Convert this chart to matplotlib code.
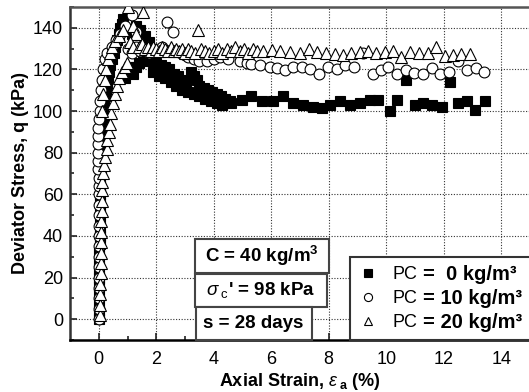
import matplotlib
matplotlib.use("Agg")
import matplotlib.pyplot as plt
from matplotlib.patches import Rectangle

plt.rcParams['font.family'] = ['Liberation Sans', 'DejaVu Sans']
plt.rcParams['mathtext.fontset'] = 'custom'
plt.rcParams['mathtext.rm'] = 'Liberation Sans'
plt.rcParams['mathtext.it'] = 'Liberation Sans:italic'
plt.rcParams['mathtext.bf'] = 'Liberation Sans:bold'

# ---------------- data ----------------
# PC = 0 kg/m3  (filled squares)
strain_pc0 = [0.00, 0.00, 0.00, 0.01, 0.01, 0.01, 0.02, 0.02, 0.02, 0.03, 0.03, 0.03, 0.04, 0.04,
              0.05, 0.05, 0.06, 0.06, 0.07, 0.08, 0.09, 0.10, 0.11, 0.12, 0.14, 0.16, 0.18, 0.21,
              0.24, 0.27, 0.31, 0.35, 0.40, 0.46, 0.52, 0.58, 0.64, 0.70, 0.75, 0.80, 0.85,
              1.00, 1.15, 1.30, 1.45, 1.60, 1.75,
              0.90, 1.00, 1.10, 1.20, 1.30, 1.40, 1.55, 1.70, 1.85, 2.00, 2.15, 2.30, 2.45, 2.60,
              2.75, 2.90, 3.05, 3.20, 3.30, 3.40, 3.50, 3.65, 3.80, 3.95, 4.10, 4.25, 4.40, 4.55,
              1.90, 2.10, 2.30, 2.50, 2.70, 2.90, 3.10, 3.30, 3.50, 3.70, 3.90, 4.10, 4.30,
              4.60, 4.97, 5.30, 5.67, 6.05, 6.40, 6.75, 7.10, 7.44, 7.75, 8.03, 8.38, 8.73, 9.08,
              9.43, 9.70, 10.12, 10.37, 10.70, 11.00, 11.27, 11.58, 11.93, 12.20, 12.49, 12.80,
              13.10, 13.43]
q_pc0 = [0, 4, 8, 12, 16, 20, 24, 28, 32, 36, 40, 44, 48, 52,
         56, 60, 64, 68, 72, 76, 80, 84, 88, 92, 96, 100, 104, 107,
         110, 113, 116, 119, 122, 125, 128, 131, 134, 137, 140, 142, 144,
         139, 137, 141, 139, 136, 133,
         116, 119, 121, 118, 121, 123, 124, 125, 124, 123, 122, 121, 120, 118,
         117, 115, 114, 119, 117, 115, 112, 111, 110, 109, 108, 107, 106, 105,
         119, 117, 116, 114, 112, 110, 109, 108, 107, 106, 105, 104, 103,
         104, 105.5, 107, 104.6, 104.8, 107, 104, 103, 102, 101.6, 103, 104.6, 103, 104,
         105.5, 105.5, 99.8, 105.5, 115, 103, 104, 103, 102, 114, 104, 104.6,
         100.7, 105]

# PC = 10 kg/m3  (open circles)
strain_pc10 = [0.00, 0.00, 0.00, 0.00, 0.00, 0.00, 0.00, 0.00, 0.00, 0.00, 0.00, 0.00, 0.00,
               0.00, 0.00, -0.01, -0.02, -0.02, -0.03, -0.03, -0.02, 0.00, 0.03, 0.05, 0.08,
               0.11, 0.14, 0.20, 0.30, 0.45, 0.60, 0.75, 0.90, 1.15, 1.30,
               1.00, 1.15, 1.30, 1.45, 1.60, 1.75, 1.90, 2.05, 2.20, 2.37, 2.58, 2.70, 2.85,
               3.00, 3.10, 3.30, 3.50, 3.75, 4.00, 4.20, 4.50, 4.90, 5.15, 5.30, 5.60, 5.95,
               6.20, 6.47, 6.75, 7.06, 7.34, 7.65, 7.97, 8.28, 8.56, 8.87, 9.18, 9.53, 9.80,
               10.05, 10.37, 10.68, 10.96, 11.27, 11.58, 11.86, 12.17, 12.49, 12.80, 13.11,
               13.40]
q_pc10 = [0, 5, 10, 15, 20, 25, 30, 35, 40, 45, 50, 55, 60,
          64, 68, 72, 76, 80, 84, 88, 92, 96, 100, 105, 110,
          115, 120, 125, 128, 131, 134, 137, 141, 146, 138,
          130, 128, 131, 129, 130, 128, 130, 129, 131, 143, 138, 129, 128,
          127, 126, 125, 124, 124, 125, 125.8, 125, 124, 123, 122.4, 122, 121,
          120.5, 119.5, 121, 121.4, 120, 117.6, 121, 120, 122, 121, 128, 117.6, 119.5,
          121.4, 118, 119.5, 118.5, 118, 120.5, 118, 119, 124, 119.5, 120.5,
          119]

# PC = 20 kg/m3  (open triangles)
strain_pc20 = [0.05, 0.05, 0.06, 0.06, 0.07, 0.07, 0.08, 0.08, 0.09, 0.09, 0.10, 0.10, 0.11,
               0.13, 0.15, 0.18, 0.22, 0.27, 0.30, 0.34, 0.38, 0.42, 0.48, 0.55, 0.62, 0.70,
               0.80, 0.90, 0.97,
               0.10, 0.15, 0.20, 0.25, 0.32, 0.38, 0.45, 0.56, 0.70, 0.85, 1.00, 1.18, 1.30,
               1.55, 1.10, 1.20, 1.40, 1.50, 1.60, 1.70, 1.80, 1.90, 2.00, 2.10, 2.20, 2.30,
               2.40, 2.50, 2.60, 2.70, 2.80, 2.90, 3.00, 3.10, 3.20, 3.35, 3.45, 3.55, 3.70,
               3.85, 4.00, 4.15, 4.30, 4.45, 4.60, 4.75, 4.90, 5.05, 5.20, 5.35, 5.50, 5.72,
               6.01, 6.30, 6.64, 6.99, 7.31, 7.59, 7.89, 8.20, 8.49, 8.78, 9.07, 9.36, 9.65,
               9.94, 10.25, 10.52, 10.81, 11.13, 11.45, 11.74, 12.03, 12.32, 12.61, 12.92]
q_pc20 = [2, 7, 12, 17, 22, 27, 32, 37, 42, 47, 52, 57, 62,
          66, 70, 74, 78, 82, 86, 90, 94, 99, 104, 108, 112, 116,
          119, 121, 123,
          100, 108, 115, 120, 125, 128, 131, 133.5, 136, 139, 150, 141, 137,
          147.5, 133, 131, 131, 132, 130, 131, 129, 131, 130, 129, 131, 130,
          129, 131, 129, 130, 129, 130, 128, 130, 129, 128, 139, 130, 129,
          128, 129, 130, 128, 130, 129, 131, 129, 130, 128, 130, 129, 129,
          129.5, 129, 128.5, 128, 130, 128.5, 128, 127.5, 127, 128, 128.5, 129, 128,
          128.5, 129, 125.8, 128.5, 128, 128, 130.6, 126.5, 127, 127.5, 127.5]

legend_names = ["PC", "PC", "PC"]
legend_values = ["=  0 kg/m³", "= 10 kg/m³", "= 20 kg/m³"]
x_ticks = [0, 2, 4, 6, 8, 10, 12, 14]
y_ticks = [0, 20, 40, 60, 80, 100, 120, 140]

FS = 13

# ---------------- figure ----------------
W, H = 529, 392
fig = plt.figure(figsize=(W / 100, H / 100), dpi=100)
L, R, T, B = 70, 530, 7, 340
ax = fig.add_axes([L / W, (H - B) / H, (R - L) / W, (B - T) / H])

h0, = ax.plot(strain_pc0, q_pc0, linestyle='none', marker='s', markersize=7.2,
              markerfacecolor='black', markeredgecolor='black', markeredgewidth=0.8, zorder=3)
h1, = ax.plot(strain_pc10, q_pc10, linestyle='none', marker='o', markersize=7.8,
              markerfacecolor='white', markeredgecolor='black', markeredgewidth=0.8, zorder=4)
h2, = ax.plot(strain_pc20, q_pc20, linestyle='none', marker='^', markersize=8.5,
              markerfacecolor='white', markeredgecolor='black', markeredgewidth=0.8, zorder=5)

ax.set_xlim(-1, 15)
ax.set_ylim(-10, 150)
ax.set_xticks(x_ticks)
ax.set_yticks(y_ticks)
ax.set_xticks([v + 1 for v in x_ticks[:-1]], minor=True)
ax.set_yticks([v + 10 for v in [-20] + y_ticks], minor=True)
ax.tick_params(which='both', direction='in', labelsize=FS, width=1.2, color='#222222')
ax.tick_params(which='major', length=5)
ax.tick_params(which='minor', length=3)
ax.tick_params(axis='x', which='major', pad=8)
ax.tick_params(axis='y', which='major', pad=5)
ax.grid(True, which='major', linestyle=(0, (1, 1.5)), color='#333333', linewidth=0.8)
ax.set_axisbelow(True)

for side, col in [('top', '#555555'), ('left', '#333333'), ('bottom', 'black'), ('right', '#555555')]:
    ax.spines[side].set_color(col)
    ax.spines[side].set_linewidth(1.8)

ax.set_ylabel("Deviator Stress, q (kPa)", fontsize=FS, fontweight='bold')
ax.yaxis.set_label_coords(-0.089, 0.5)
ax.set_xlabel(r"Axial Strain, $\mathit{\varepsilon}_{\ \mathbf{a}}$ (%)", fontsize=FS,
              fontweight='bold')
ax.xaxis.set_label_coords(0.5, -0.093)

# ---------------- text boxes ----------------
def ax_x(px):
    return (px - L) / (R - L)

def ax_y(py):
    return (B - py) / (B - T)

boxes = [
    (195, 329, 239, 273, 205, r"C = 40 kg/m$^\mathbf{3}$"),
    (195, 327, 274, 307, 206, r"$\mathit{\sigma}_{\ \mathrm{c}}$' = 98 kPa"),
    (196, 312, 307, 340, 203, r"s = 28 days"),
]
for x0, x1, y0, y1, tx, txt in boxes:
    ax.add_patch(Rectangle((ax_x(x0), ax_y(y1)), ax_x(x1) - ax_x(x0), ax_y(y0) - ax_y(y1),
                           transform=ax.transAxes, facecolor='white', edgecolor='#444444',
                           linewidth=1.5, zorder=10, clip_on=False))
    ax.text(ax_x(tx), (ax_y(y0) + ax_y(y1)) / 2, txt, transform=ax.transAxes,
            ha='left', va='center', fontsize=13.5, fontweight='bold', zorder=11)

leg = ax.legend([h0, h1, h2], legend_names, loc='lower left', mode='expand',
                bbox_to_anchor=(ax_x(350), 0.0, ax_x(545) - ax_x(350), 0.3),
                borderaxespad=0, fontsize=13,
                markerscale=0.75, handlelength=1.0, handletextpad=0.85,
                labelspacing=0.38, borderpad=0.5, fancybox=False, framealpha=1,
                edgecolor='#333333')
leg.get_frame().set_linewidth(1.5)
leg.set_zorder(12)

for t, val in zip(leg.get_texts(), legend_values):
    ax.annotate(val, xy=(1, 0.5), xycoords=t, xytext=(6, 0), textcoords='offset pixels',
                ha='left', va='center', fontsize=14.5, fontweight='bold', zorder=13,
                annotation_clip=False)

fig.savefig("out.png", dpi=100)
